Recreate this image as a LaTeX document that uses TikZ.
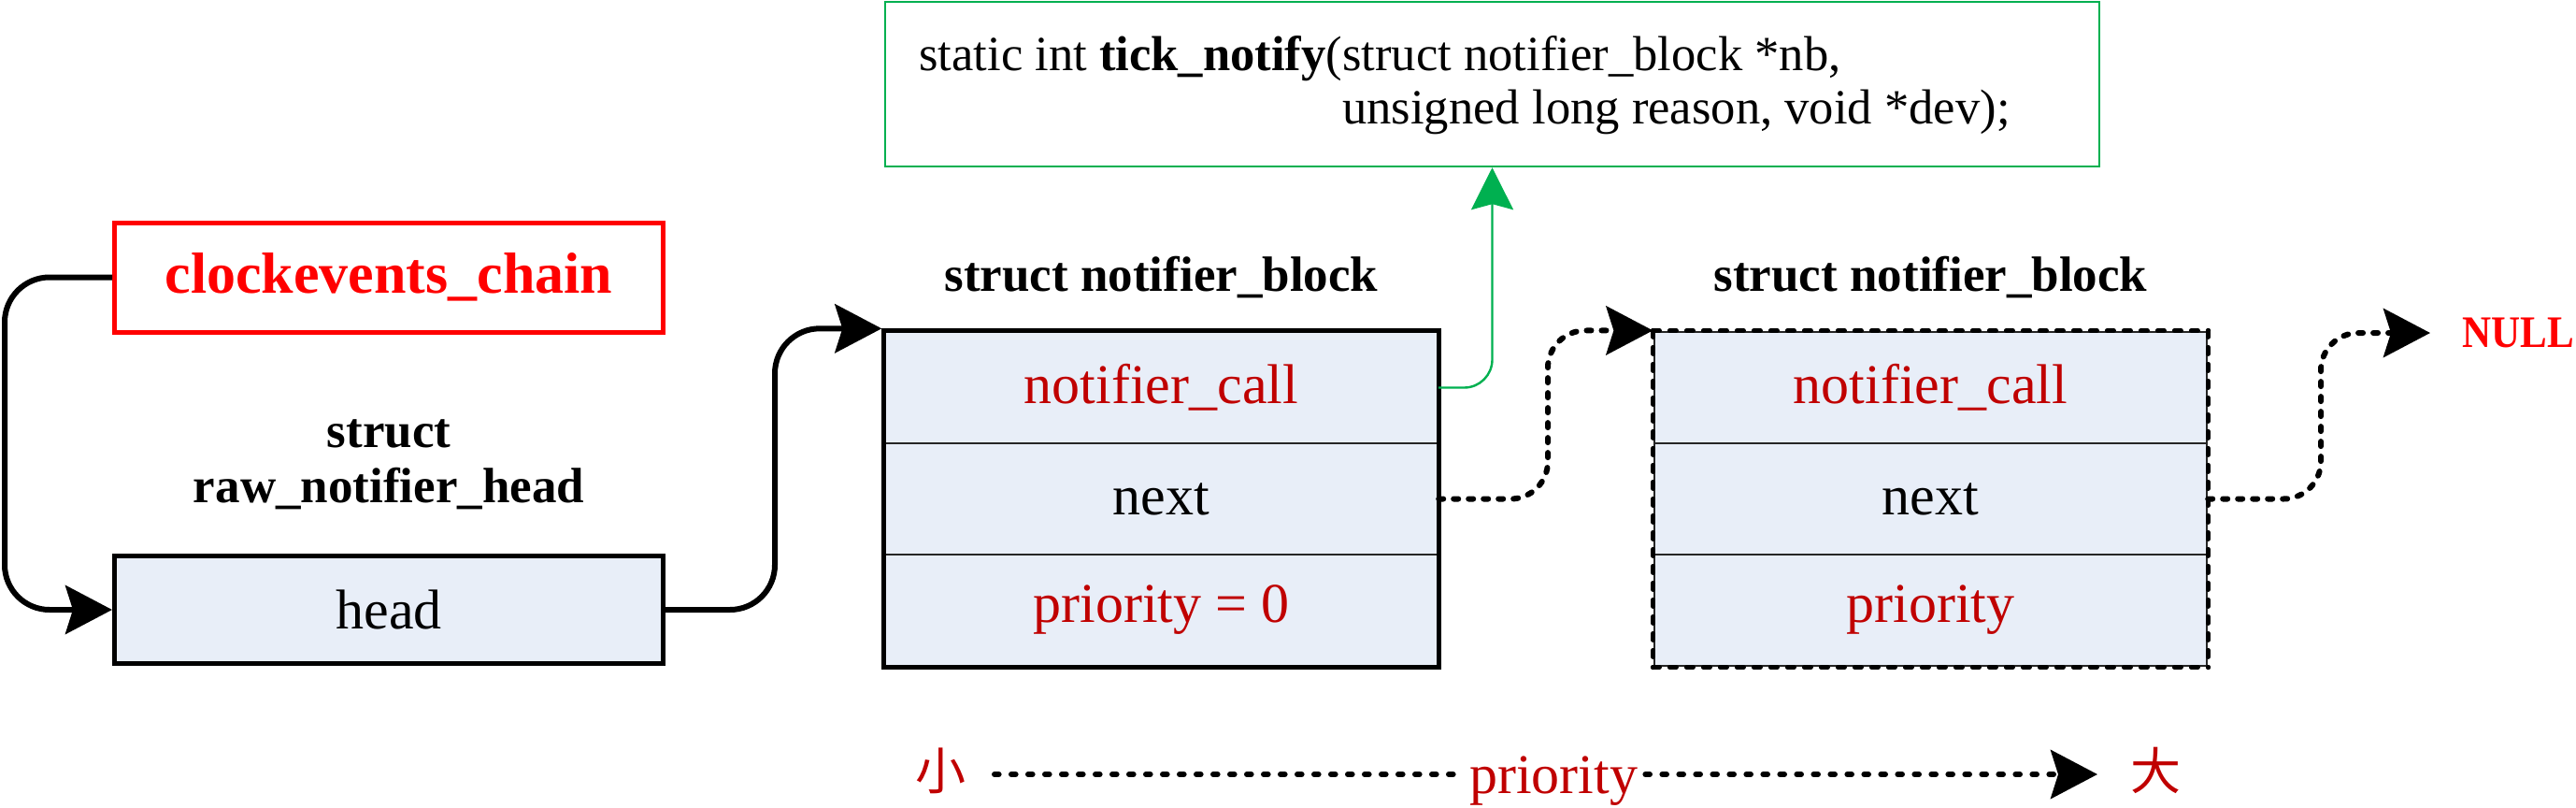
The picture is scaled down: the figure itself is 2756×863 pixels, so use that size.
\documentclass[tikz,border=0pt]{standalone}
\usepackage{fontspec}
\setmainfont{Liberation Serif}
\newfontfamily\cjkfont{Noto Sans CJK SC}
\usetikzlibrary{arrows.meta,fit,calc}
\definecolor{boxfill}{RGB}{232,238,248}
\definecolor{darkred}{RGB}{192,0,0}
\definecolor{pured}{RGB}{255,0,0}
\definecolor{codegreen}{RGB}{0,176,80}
\begin{document}
\begin{tikzpicture}[x=0.5pt,y=-0.5pt,
  fieldbox/.style={draw=black!85, line width=1.2pt, fill=boxfill, minimum width=295.5pt, minimum height=59.5pt, inner sep=0pt, font=\fontsize{30}{36}\selectfont},
  outerbox/.style={draw=black, line width=2.5pt, inner sep=0pt},
  structlabel/.style={inner sep=0pt, font=\bfseries\fontsize{26.5}{32}\selectfont},
  codefont/.style={inner sep=0pt, font=\fontsize{26.3}{31}\selectfont},
  bigtip/.style={-{Stealth[length=25pt,width=26pt,inset=4pt]}},
  conn/.style={line width=3pt, rounded corners=24pt, bigtip},
  dotconn/.style={line width=3pt, rounded corners=20pt, line cap=round, dash pattern=on 2.5pt off 5.5pt, bigtip},
  botdot/.style={line width=3pt, line cap=round, dash pattern=on 2.3pt off 6.7pt},
  greenconn/.style={draw=codegreen, line width=1.2pt, rounded corners=15pt, -{Stealth[length=22.5pt,width=22.5pt,inset=3pt]}},
  edgedash/.style={line width=2.5pt, line cap=round, dash pattern=on 3.5pt off 5.5pt},
  cjkstyle/.style={inner sep=0pt, text=darkred, font=\cjkfont\fontsize{27}{32}\selectfont}
]
\useasboundingbox (0,0) rectangle (2756,863);

% code box
\node[draw=codegreen, line width=1.2pt, minimum width=649.5pt, minimum height=88pt, inner sep=0pt] (codebox) at (1596.5,90) {};
\node[codefont, anchor=base west] (code1) at (983,75) {static int \textbf{tick\_notify}(struct notifier\_block *nb,};
\node[codefont, anchor=base west] (code2) at (983,132) {\phantom{static int \textbf{tick\_notify}(}unsigned long reason, void *dev);};

% chain and head
\node[draw=pured, line width=2.5pt, minimum width=293.5pt, minimum height=58.5pt, inner sep=0pt, text=pured, font=\bfseries\fontsize{31}{36}\selectfont] (chain) at (416,296.5) {clockevents\_chain};
\node[structlabel, anchor=base] (s0a) at (416,478) {struct};
\node[structlabel, anchor=base] (s0b) at (416,537) {raw\_notifier\_head};
\node[draw=black, line width=2.5pt, fill=boxfill, minimum width=293.5pt, minimum height=57.5pt, inner sep=0pt, font=\fontsize{30}{36}\selectfont] (head) at (416,652) {head};

% block 1
\node[structlabel, anchor=base] (s1) at (1242.5,311) {struct notifier\_block};
\node[fieldbox, text=darkred] (r1a) at (1242.5,414.5) {notifier\_call};
\node[fieldbox] (r1b) at (1242.5,533.5) {next};
\node[fieldbox, text=darkred] (r1c) at (1242.5,652.5) {priority = 0};
\node[outerbox, fit=(r1a)(r1c)] (b1) {};

% block 2
\node[structlabel, anchor=base] (s2) at (2065.5,311) {struct notifier\_block};
\node[fieldbox, text=darkred] (r2a) at (2065.5,414.5) {notifier\_call};
\node[fieldbox] (r2b) at (2065.5,533.5) {next};
\node[fieldbox, text=darkred] (r2c) at (2065.5,652.5) {priority};
\node[fit=(r2a)(r2c), inner sep=0pt] (b2) {};
\draw[edgedash] (b2.north west) -- (b2.north east);
\draw[edgedash] (b2.south west) -- (b2.south east);
\draw[edgedash] (b2.north west) -- (b2.south west);
\draw[edgedash] (b2.north east) -- (b2.south east);

% NULL
\node[anchor=west, inner sep=0pt, text=pured, font=\bfseries\fontsize{21.5}{26}\selectfont] (nulltext) at (2634,356) {\scalebox{1}[1.12]{NULL}};

% helper coordinates
\coordinate (c1) at (5,475);
\coordinate (c2) at (829,500);
\coordinate (c3) at (1656,450);
\coordinate (c4) at (2483,450);
\coordinate (nullpt) at (2600,356);

% connectors
\draw[conn] (chain.west) -- (chain.west -| c1) -- (head.west -| c1) -- (head.west);
\draw[conn] (head.east) -- (head.east -| c2) -- (b1.north west -| c2) -- (b1.north west);
\draw[greenconn] (r1a.east) -| (codebox.south);
\draw[dotconn] (r1b.east) -- (r1b.east -| c3) -- (b2.north west -| c3) -- (b2.north west);
\draw[dotconn] (r2b.east) -- (r2b.east -| c4) -- (nullpt -| c4) -- (nullpt);

% priority scale
\node[cjkstyle, anchor=base] (xiao) at (1006,844) {小};
\node[cjkstyle, anchor=base] (da) at (2306,844) {大};
\node[inner sep=4pt, text=darkred, font=\fontsize{30}{36}\selectfont, anchor=base] (prio) at (1662,848) {priority};
\coordinate (ps) at (1064,828);
\coordinate (pe) at (2244,828);
\draw[botdot] (ps) -- (ps -| prio.west);
\draw[botdot, bigtip] (prio.east |- ps) -- (pe);
\end{tikzpicture}
\end{document}
